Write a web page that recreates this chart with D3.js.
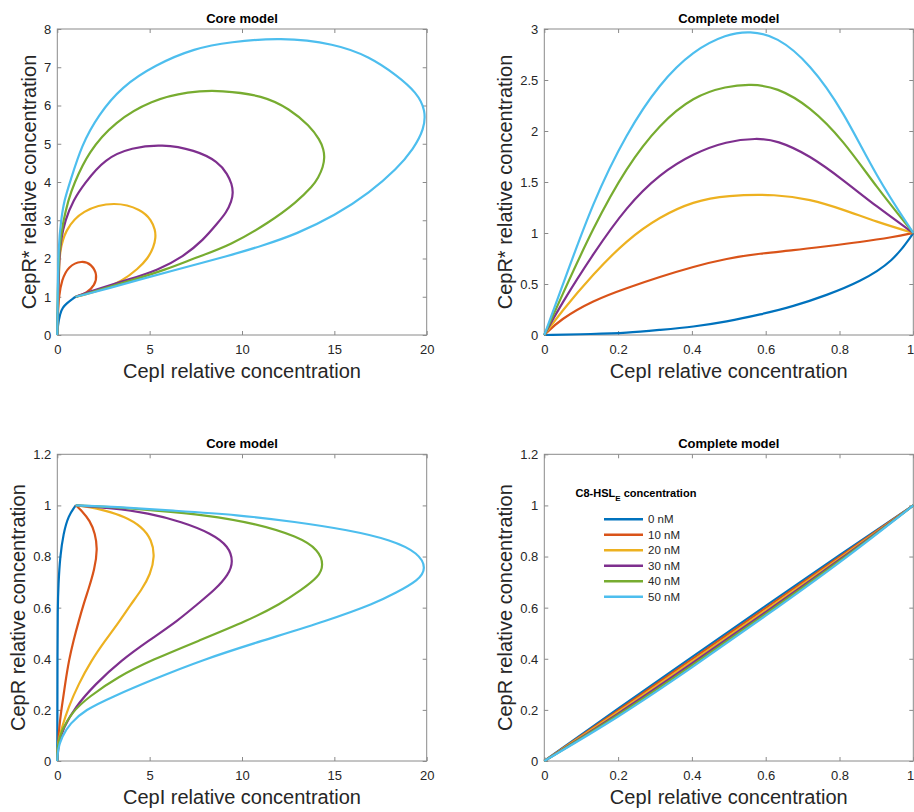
<!DOCTYPE html>
<html>
<head>
<meta charset="utf-8">
<script src="https://cdn.jsdelivr.net/npm/d3@7"></script>
<style>
  body { margin: 0; background: #fff; }
  svg { display: block; font-family: "Liberation Sans", Arial, Helvetica, sans-serif; }
</style>
</head>
<body>
<div id="chart"></div>
<script>
const concentrations = ["0 nM", "10 nM", "20 nM", "30 nM", "40 nM", "50 nM"]
const colors = ["#0072BD", "#D95319", "#EDB120", "#7E2F8E", "#77AC30", "#4DBEEE"]

// [CepI, CepR*] per series, core model (top left)
const coreActive = [
  [[0,0],[0.02,0.22],[0.15,0.57],[0.3,0.72],[0.51,0.83],[0.87,0.96],[1,1]],
  [[0,0],[0.03,0.5],[0.08,1.0],[0.24,1.44],[0.6,1.8],[1.32,1.95],[1.86,1.85],[2.17,1.57],[2.03,1.3],[1.59,1.1],[1.15,1.02],[1,1]],
  [[0,0],[0.02,0.5],[0.05,1.0],[0.1,1.7],[0.13,2.18],[0.42,2.74],[1.32,3.27],[3.12,3.5],[4.57,3.28],[5.1,3.0],[5.3,2.75],[5.33,2.55],[5.22,2.3],[4.9,2.0],[4.39,1.74],[3.48,1.4],[2.4,1.18],[1.5,1.06],[1,1]],
  [[0,0],[0.02,0.5],[0.05,1.0],[0.1,2.0],[0.2,2.5],[0.42,3.0],[0.87,3.53],[1.45,3.95],[2.58,4.62],[4.03,4.9],[5.65,4.99],[7.45,4.84],[8.72,4.53],[9.22,4.2],[9.45,3.95],[9.52,3.72],[9.44,3.5],[9.15,3.2],[8.72,2.95],[7.9,2.48],[6.82,2.05],[5.47,1.7],[3.8,1.44],[2.3,1.22],[1.5,1.09],[1,1]],
  [[0,0],[0.02,1.0],[0.09,2.3],[0.33,3.0],[0.6,3.53],[0.87,3.92],[1.68,4.79],[3.12,5.58],[5.1,6.14],[7.1,6.37],[8.9,6.4],[11.14,6.26],[12.58,5.91],[13.66,5.47],[14.22,5.1],[14.42,4.85],[14.47,4.65],[14.4,4.4],[14.12,4.1],[13.84,3.9],[12.95,3.47],[11.5,2.95],[9.35,2.34],[7.64,2.05],[5.83,1.7],[4.1,1.44],[2.55,1.22],[1.6,1.08],[1,1]],
  [[0,0],[0.02,1.0],[0.06,2.3],[0.2,3.0],[0.38,3.53],[0.69,4.0],[1.32,4.97],[2.22,5.75],[3.48,6.49],[5.29,7.06],[7.45,7.5],[9.35,7.66],[12.06,7.78],[15.03,7.62],[16.93,7.27],[18.38,6.79],[19.46,6.34],[19.95,5.87],[19.86,5.38],[19.28,4.86],[18.38,4.34],[16.93,3.73],[15.03,3.12],[12.95,2.64],[11.14,2.34],[9.35,2.08],[6.37,1.7],[4.4,1.44],[2.75,1.22],[1.7,1.08],[1,1]]
]

// [CepI, CepR*] per series, complete model (top right)
const completeActive = [
  [[0,0],[0.133,0.01],[0.223,0.02],[0.313,0.05],[0.404,0.08],[0.494,0.13],[0.585,0.2],[0.675,0.28],[0.765,0.39],[0.855,0.52],[0.946,0.72],[1,1]],
  [[0,0],[0.042,0.15],[0.133,0.34],[0.223,0.46],[0.313,0.57],[0.404,0.67],[0.494,0.75],[0.585,0.8],[0.675,0.83],[0.765,0.87],[0.855,0.91],[0.946,0.96],[1,1]],
  [[0,0],[0.042,0.21],[0.133,0.6],[0.223,0.93],[0.313,1.16],[0.404,1.31],[0.494,1.37],[0.63,1.38],[0.72,1.33],[0.81,1.23],[0.9,1.11],[1,1]],
  [[0,0],[0.042,0.28],[0.133,0.8],[0.223,1.26],[0.313,1.58],[0.404,1.78],[0.494,1.9],[0.575,1.93],[0.63,1.91],[0.72,1.76],[0.81,1.52],[0.9,1.26],[1,1]],
  [[0,0],[0.042,0.34],[0.133,1.06],[0.223,1.65],[0.313,2.07],[0.404,2.34],[0.494,2.44],[0.56,2.46],[0.63,2.43],[0.72,2.24],[0.81,1.91],[0.9,1.45],[1,1]],
  [[0,0],[0.042,0.41],[0.133,1.32],[0.223,1.98],[0.313,2.47],[0.404,2.79],[0.494,2.95],[0.557,2.98],[0.63,2.93],[0.72,2.66],[0.81,2.2],[0.9,1.55],[1,1]]
]

// [CepI, CepR] per series, core model (bottom left)
const coreTotal = [
  [[0,0],[0.005,0.2],[0.01,0.4],[0.02,0.6],[0.06,0.69],[0.15,0.8],[0.33,0.89],[0.6,0.96],[1,1]],
  [[0,0],[0.09,0.13],[0.24,0.21],[0.42,0.3],[0.63,0.395],[0.87,0.47],[1.17,0.55],[1.45,0.62],[1.68,0.67],[2.02,0.75],[2.18,0.83],[2.05,0.89],[1.77,0.94],[1.32,0.98],[1,1]],
  [[0,0],[0.02,0.068],[0.24,0.13],[0.6,0.21],[1.14,0.3],[1.86,0.395],[2.58,0.47],[3.4,0.55],[3.95,0.61],[4.57,0.67],[5.04,0.73],[5.28,0.8],[5.12,0.865],[4.57,0.917],[3.66,0.956],[2.58,0.98],[1.68,0.995],[1,1]],
  [[0,0],[0.06,0.068],[0.33,0.13],[0.96,0.21],[2.04,0.3],[3.48,0.395],[4.93,0.47],[6.55,0.55],[7.6,0.615],[8.54,0.67],[9.28,0.73],[9.53,0.78],[9.28,0.84],[8.36,0.89],[6.73,0.936],[4.93,0.97],[2.94,0.99],[1,1]],
  [[0,0],[0.02,0.068],[0.24,0.12],[0.78,0.19],[1.68,0.25],[3.3,0.33],[5.11,0.395],[7.64,0.47],[10.34,0.55],[12.1,0.615],[13.23,0.67],[14.15,0.72],[14.43,0.767],[14.15,0.826],[13.05,0.878],[10.7,0.93],[8.0,0.963],[5.3,0.98],[2.76,0.995],[1,1]],
  [[0,0],[0.02,0.043],[0.24,0.095],[0.69,0.147],[1.5,0.2],[2.94,0.25],[5.11,0.317],[7.82,0.395],[11.06,0.47],[14.67,0.55],[17.2,0.617],[18.28,0.656],[19.58,0.708],[19.98,0.754],[19.58,0.813],[18.1,0.865],[15.76,0.904],[12.87,0.936],[9.8,0.963],[6.2,0.98],[3.1,0.995],[1,1]]
]

// [CepI, CepR] per series, complete model (bottom right)
const completeTotal = [
  [[0,0],[0.2,0.205],[0.4,0.407],[0.6,0.607],[0.8,0.806],[1,1]],
  [[0,0],[0.2,0.197],[0.4,0.398],[0.6,0.598],[0.8,0.799],[1,1]],
  [[0,0],[0.2,0.19],[0.4,0.39],[0.6,0.59],[0.8,0.792],[1,1]],
  [[0,0],[0.2,0.183],[0.4,0.381],[0.6,0.582],[0.8,0.786],[1,1]],
  [[0,0],[0.2,0.177],[0.4,0.373],[0.6,0.575],[0.8,0.78],[1,1]],
  [[0,0],[0.2,0.17],[0.4,0.365],[0.6,0.568],[0.8,0.774],[1,1]]
]

const xTicksCore = [0, 5, 10, 15, 20]
const xTicksComplete = [0, 0.2, 0.4, 0.6, 0.8, 1]
const yTicksCoreActive = [0, 1, 2, 3, 4, 5, 6, 7, 8]
const yTicksCompleteActive = [0, 0.5, 1, 1.5, 2, 2.5, 3]
const yTicksTotal = [0, 0.2, 0.4, 0.6, 0.8, 1, 1.2]

const W = 914, H = 812
const TEXT = "#262626"
const AXIS = "#8a8a8a"

const svg = d3.select("#chart").append("svg")
  .attr("width", W)
  .attr("height", H)

const panels = [
  { title: "Core model", series: coreActive, left: 57.3, right: 426.7, top: 29, bottom: 335,
    xTicks: xTicksCore, yTicks: yTicksCoreActive, yLabel: "CepR* relative concentration", yLabelX: 36 },
  { title: "Complete model", series: completeActive, left: 544.3, right: 913.3, top: 29, bottom: 335,
    xTicks: xTicksComplete, yTicks: yTicksCompleteActive, yLabel: "CepR* relative concentration", yLabelX: 512 },
  { title: "Core model", series: coreTotal, left: 57.3, right: 426.7, top: 454.3, bottom: 761,
    xTicks: xTicksCore, yTicks: yTicksTotal, yLabel: "CepR relative concentration", yLabelX: 25 },
  { title: "Complete model", series: completeTotal, left: 544.3, right: 913.3, top: 454.3, bottom: 761,
    xTicks: xTicksComplete, yTicks: yTicksTotal, yLabel: "CepR relative concentration", yLabelX: 512, legend: true }
]

panels.forEach(p => {
  const x = d3.scaleLinear()
    .domain(d3.extent(p.xTicks))
    .range([p.left, p.right])
  const y = d3.scaleLinear()
    .domain(d3.extent(p.yTicks))
    .range([p.bottom, p.top])

  const g = svg.append("g")

  // inward ticks on all four sides, like a boxed matlab axes
  const fmt = d => String(d)
  const tick = 4
  const axes = [
    [d3.axisBottom(x).tickValues(p.xTicks).tickFormat(fmt), `translate(0,${p.bottom})`],
    [d3.axisTop(x).tickValues(p.xTicks).tickFormat(""), `translate(0,${p.top})`],
    [d3.axisLeft(y).tickValues(p.yTicks).tickFormat(fmt), `translate(${p.left},0)`],
    [d3.axisRight(y).tickValues(p.yTicks).tickFormat(""), `translate(${p.right},0)`]
  ]
  axes.forEach(([ax, tr], i) => {
    const a = g.append("g")
      .attr("transform", tr)
      .call(ax.tickSizeInner(-tick).tickSizeOuter(0).tickPadding(0))
    a.select(".domain").remove()
    a.selectAll("line").attr("stroke", AXIS)
    a.selectAll("text")
      .attr("fill", TEXT)
      .attr("font-size", 13)
      .attr("font-family", null)
    if (i === 0) {
      a.selectAll("text").attr("dy", null).attr("y", 19)
      // last label sits on the page edge for the right panels
      if (p.right > W - 2) {
        a.selectAll("text").filter(d => d === 1)
          .attr("text-anchor", "end")
          .attr("x", 0.5)
      }
    }
    if (i === 2) a.selectAll("text").attr("x", -6).attr("dy", "0.34em")
  })

  g.append("rect")
    .attr("x", p.left)
    .attr("y", p.top)
    .attr("width", p.right - p.left)
    .attr("height", p.bottom - p.top)
    .attr("fill", "none")
    .attr("stroke", AXIS)
    .attr("stroke-width", 1)

  const line = d3.line()
    .x(d => x(d[0]))
    .y(d => y(d[1]))
    .curve(d3.curveBasis)

  g.selectAll("path.series")
    .data(p.series)
    .enter().append("path")
      .attr("class", "series")
      .attr("d", line)
      .attr("fill", "none")
      .attr("stroke", (d, i) => colors[i])
      .attr("stroke-width", 2.2)
      .attr("stroke-linejoin", "round")

  g.append("text")
    .attr("x", (p.left + p.right) / 2)
    .attr("y", p.top - 6)
    .attr("text-anchor", "middle")
    .attr("font-size", 13)
    .attr("font-weight", "bold")
    .attr("fill", "#000")
    .text(p.title)

  g.append("text")
    .attr("x", (p.left + p.right) / 2)
    .attr("y", p.bottom + 43)
    .attr("text-anchor", "middle")
    .attr("font-size", 20)
    .attr("fill", TEXT)
    .text("CepI relative concentration")

  g.append("text")
    .attr("transform", `translate(${p.yLabelX},${(p.top + p.bottom) / 2}) rotate(-90)`)
    .attr("text-anchor", "middle")
    .attr("font-size", 20)
    .attr("fill", TEXT)
    .text(p.yLabel)

  if (p.legend) {
    const lg = g.append("g")
    const title = lg.append("text")
      .attr("x", 575.5)
      .attr("y", 497)
      .attr("font-size", 11)
      .attr("font-weight", "bold")
      .attr("fill", "#000")
    title.append("tspan").text("C8-HSL")
    title.append("tspan").attr("font-size", 8).attr("dy", 4).text("E")
    title.append("tspan").attr("dy", -4).text(" concentration")

    const rowY = d3.scalePoint()
      .domain(concentrations)
      .range([519.3, 596.7])

    const rows = lg.selectAll("g.row")
      .data(concentrations)
      .enter().append("g")
        .attr("class", "row")
        .attr("transform", d => `translate(0,${rowY(d)})`)
    rows.append("line")
      .attr("x1", 604)
      .attr("x2", 643)
      .attr("stroke", (d, i) => colors[i])
      .attr("stroke-width", 2.6)
    rows.append("text")
      .attr("x", 648)
      .attr("dy", "0.35em")
      .attr("font-size", 11.5)
      .attr("fill", TEXT)
      .text(d => d)
  }
})
</script>
</body>
</html>
